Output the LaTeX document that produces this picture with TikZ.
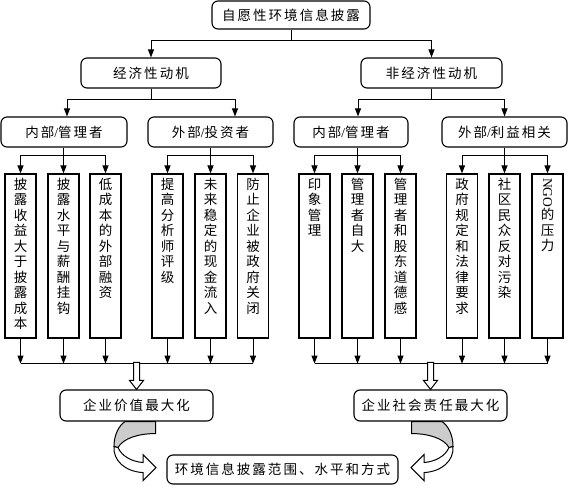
\documentclass[tikz,border=0pt]{standalone}
\usepackage{fontspec}
\setmainfont{Liberation Serif}
\newfontfamily\cjk[LetterSpace=15]{Noto Sans CJK SC}
\newfontfamily\cjkv{Noto Sans CJK SC}
\usetikzlibrary{arrows.meta,calc}
\XeTeXlinebreaklocale "zh"
\XeTeXlinebreakskip=0pt plus 1pt

\tikzset{
  rbox/.style={draw, line width=1.1pt, rounded corners=6pt, inner sep=0pt, minimum height=30pt},
  vbox/.style={draw, line width=1.2pt, inner sep=0pt, minimum width=31pt, minimum height=164pt},
  ln/.style={line width=1pt},
  arr/.style={line width=1pt, -{Triangle[length=8pt,width=6pt]}},
  hollow/.style={line width=1pt, fill=white},
}
\newcommand{\vtxt}[1]{\parbox[c][156pt][t]{14pt}{\cjkv\centering #1}}
\newcommand{\slsh}{{\rmfamily/}}

\begin{document}
\begin{tikzpicture}[x=1pt, y=-1pt, font=\cjk\fontsize{13.5}{15.5}\selectfont]
\useasboundingbox (0,0) rectangle (568,485);

\node[rbox, minimum width=158pt, minimum height=28pt] (top) at (291,15) {自愿性环境信息披露};
\node[rbox, minimum width=140pt] (econ) at (151,73) {经济性动机};
\node[rbox, minimum width=141pt] (nonecon) at (431.5,73) {非经济性动机};

\node[rbox, minimum width=126pt] (inA) at (64,132) {内部\slsh 管理者};
\node[rbox, minimum width=125pt] (exA) at (210.5,132) {外部\slsh 投资者};
\node[rbox, minimum width=114pt] (inB) at (351,132) {内部\slsh 管理者};
\node[rbox, minimum width=125pt] (exB) at (504.5,132) {外部\slsh 利益相关};

\node[vbox] (m1) at (20.5,256) {\vtxt{披露收益大于披露成本}};
\node[vbox] (m2) at (63.5,256) {\vtxt{披露水平与薪酬挂钩}};
\node[vbox] (m3) at (105.5,256) {\vtxt{低成本的外部融资}};
\node[vbox] (m4) at (167.5,256) {\vtxt{提高分析师评级}};
\node[vbox] (m5) at (210.5,256) {\vtxt{未来稳定的现金流入}};
\node[vbox] (m6) at (253,256) {\vtxt{防止企业被政府关闭}};
\node[vbox] (m7) at (314.5,256) {\vtxt{印象管理}};
\node[vbox] (m8) at (357.5,256) {\vtxt{管理者自大}};
\node[vbox] (m9) at (400.5,256) {\vtxt{管理者和股东道德感}};
\node[vbox] (m10) at (462,256) {\vtxt{政府规定和法律要求}};
\node[vbox] (m11) at (504.5,256) {\vtxt{社区民众反对污染}};
\node[vbox] (m12) at (547.5,256) {\vtxt{\rotatebox{-90}{\rmfamily NGO}\\的压力}};

\node[rbox, minimum width=153pt, minimum height=31pt] (val) at (136.5,405.5) {企业价值最大化};
\node[rbox, minimum width=153pt, minimum height=31pt] (csr) at (430.5,405.5) {企业社会责任最大化};
\node[rbox, minimum width=231pt, minimum height=29pt] (final) at (282.5,469.5) {环境信息披露范围、水平和方式};

\draw[ln] (top.south) -- ++(0,11) coordinate (j0);
\draw[arr] (j0) -| (econ.north);
\draw[arr] (j0) -| (nonecon.north);

\draw[ln] (econ.south) -- ++(0,11) coordinate (j1);
\draw[arr] (j1) -| ([xshift=3pt]inA.north);
\draw[arr] (j1) -| ([xshift=24.5pt]exA.north);
\draw[ln] (nonecon.south) -- ++(0,11) coordinate (j2);
\draw[arr] (j2) -| ([xshift=7pt]inB.north);
\draw[arr] (j2) -| (exB.north);

\draw[ln] (m2.north |- inA.south) -- ++(0,8) coordinate (ja);
\draw[ln] (m5.north |- exA.south) -- ++(0,8) coordinate (jb);
\draw[ln] (m8.north |- inB.south) -- ++(0,8) coordinate (jc);
\draw[ln] (m11.north |- exB.south) -- ++(0,8) coordinate (jd);
\foreach \i in {1,2,3} \draw[arr] (ja) -| (m\i.north);
\foreach \i in {4,5,6} \draw[arr] (jb) -| (m\i.north);
\foreach \i in {7,8,9} \draw[arr] (jc) -| (m\i.north);
\foreach \i in {10,11,12} \draw[arr] (jd) -| (m\i.north);

\foreach \i in {1,...,12} \draw[arr] (m\i.south) -- ++(0,25);
\draw[ln] ([yshift=-25pt]m1.south) -- ([yshift=-25pt]m6.south);
\draw[ln] ([yshift=-25pt]m7.south) -- ([yshift=-25pt]m12.south);

\foreach \b in {val,csr}
  \draw[hollow] (\b.north) -- ++(-7,-9) -- ++(4,0) -- ++(0,-18) -- ++(6,0) -- ++(0,18) -- ++(4,0) -- cycle;

\foreach \b/\s in {val/1,csr/-1}{
\begin{scope}[shift={(\b.south)}, xscale=\s]
\draw[ln, fill=black!20] (-11.5,0) -- (19,0) -- (19,12) .. controls (1.5,12) and (-13.5,17) .. (-18.5,26) -- (-22.5,25) .. controls (-22.5,13) and (-17.5,4) .. (-11.5,0) -- cycle;
\draw[ln, fill=white] (-18.5,26) .. controls (-14.5,35) and (-4.5,40) .. (6.5,41) -- (6.5,33) -- (19.5,46) -- (6.5,59) -- (6.5,51) .. controls (-11.5,50) and (-23.5,39) .. (-22.5,25) -- cycle;
\end{scope}
}
\end{tikzpicture}
\end{document}
